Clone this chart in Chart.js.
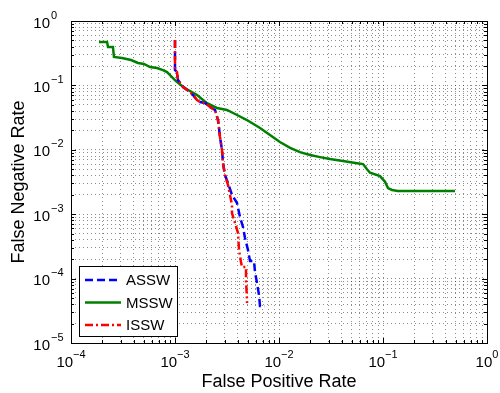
<!DOCTYPE html>
<html>
<head>
<meta charset="utf-8">
<script src="https://cdn.jsdelivr.net/npm/chart.js@4.4.1/dist/chart.umd.min.js"></script>
<style>
  html, body { margin: 0; padding: 0; background: #fff; }
</style>
</head>
<body>
<canvas id="chart" width="500" height="393"></canvas>
<script>
// axis decades (tick labels are 10^exp)
const xTickExps = [-4, -3, -2, -1, 0];
const yTickExps = [-5, -4, -3, -2, -1, 0];
const xTitle = 'False Positive Rate';
const yTitle = 'False Negative Rate';
const seriesNames = ['ASSW', 'MSSW', 'ISSW'];

// ASSW
const asswFpr = [1.0e-3, 1.0e-3, 1.045e-3, 1.069e-3, 1.194e-3, 1.394e-3, 1.49e-3, 1.627e-3, 1.739e-3, 1.943e-3,
  2.17e-3, 2.424e-3, 2.591e-3, 2.649e-3, 2.708e-3, 2.83e-3, 2.893e-3, 3.025e-3, 3.232e-3, 3.532e-3,
  3.947e-3, 4.217e-3, 4.506e-3, 4.711e-3, 5.033e-3, 5.262e-3, 5.749e-3, 5.878e-3, 6.144e-3, 6.422e-3,
  6.567e-3, 7.335e-3];
const asswFnr = [0.507, 0.173, 0.161, 0.121, 0.0944, 0.079, 0.071, 0.0593, 0.0552, 0.0533,
  0.0462, 0.0415, 0.029, 0.0218, 0.0158, 0.00993, 0.00624, 0.00406, 0.00305, 0.00199,
  0.00149, 0.000905, 0.000633, 0.000427, 0.000278, 0.000188, 0.000188, 0.000127, 8.54e-5, 5.56e-5,
  3.75e-5, 3.75e-5];

// MSSW
const msswFpr = [1.86e-4, 2.22e-4, 2.27e-4, 2.53e-4, 2.59e-4, 3.09e-4, 3.78e-4, 4.41e-4, 5.03e-4, 5.75e-4,
  6.71e-4, 7.67e-4, 8.38e-4, 9.36e-4, 1.02e-3, 1.17e-3, 1.33e-3, 1.63e-3, 2.03e-3, 2.53e-3,
  3.16e-3, 3.95e-3, 4.92e-3, 6.57e-3, 8.19e-3, 1.02e-2, 1.28e-2, 1.59e-2, 1.99e-2, 2.48e-2,
  3.09e-2, 4.12e-2, 5.62e-2, 6.43e-2, 7.02e-2, 7.5e-2, 9.36e-2, 0.1045, 0.1117, 0.122,
  0.139, 0.492];
const msswFnr = [0.472, 0.472, 0.395, 0.395, 0.276, 0.266, 0.248, 0.223, 0.215, 0.193,
  0.186, 0.173, 0.161, 0.135, 0.117, 0.098, 0.085, 0.071, 0.053, 0.0446,
  0.0415, 0.0347, 0.029, 0.0218, 0.017, 0.0132, 0.0107, 0.0092, 0.0083, 0.0077,
  0.0072, 0.0067, 0.0062, 0.0060, 0.0050, 0.0044, 0.0039, 0.0032, 0.00255, 0.00238,
  0.00229, 0.00229];

// ISSW
const isswFpr = [1.0e-3, 1.0e-3, 1.045e-3, 1.069e-3, 1.194e-3, 1.394e-3, 1.49e-3, 1.627e-3, 1.739e-3, 1.943e-3,
  2.17e-3, 2.424e-3, 2.591e-3, 2.649e-3, 2.708e-3, 2.83e-3, 2.893e-3, 3.025e-3, 3.232e-3, 3.378e-3,
  3.532e-3, 3.532e-3, 3.775e-3, 4.035e-3, 4.125e-3, 4.311e-3, 4.408e-3, 4.817e-3, 4.817e-3, 4.924e-3,
  4.924e-3];
const isswFnr = [0.507, 0.173, 0.161, 0.121, 0.0944, 0.079, 0.071, 0.0593, 0.0552, 0.0533,
  0.0462, 0.0415, 0.029, 0.0218, 0.0158, 0.00993, 0.00624, 0.00406, 0.00284, 0.00199,
  0.00139, 0.00104, 0.00073, 0.00051, 0.000278, 0.000181, 0.000151, 0.000151, 9.51e-5, 4.65e-5,
  4.18e-5];

const FONT = '"Liberation Sans", Arial, Helvetica, sans-serif';

function toPoints(xs, ys) {
  return xs.map((x, i) => ({ x: x, y: ys[i] }));
}

// all 1..9 x 10^e ticks inside a decade range
function decadeTicks(exps) {
  const out = [];
  for (let i = 0; i < exps.length; i++) {
    const e = exps[i];
    const last = i === exps.length - 1;
    for (let m = 1; m <= (last ? 1 : 9); m++) out.push({ value: m * Math.pow(10, e) });
  }
  return out;
}

function supText(exp) {
  return exp < 0 ? '\u2212' + (-exp) : String(exp);
}

// frame, inward ticks, 10^n labels, titles, legend
const matlabAxes = {
  id: 'matlabAxes',
  afterDraw(chart) {
    const ctx = chart.ctx;
    const area = chart.chartArea;
    const xs = chart.scales.x;
    const ys = chart.scales.y;

    ctx.save();
    ctx.strokeStyle = '#000';
    ctx.lineWidth = 1;
    ctx.setLineDash([]);

    // inward ticks on all four sides
    ctx.beginPath();
    xs.ticks.forEach(t => {
      const px = Math.round(xs.getPixelForValue(t.value)) + 0.5;
      const major = Math.abs(Math.log10(t.value) - Math.round(Math.log10(t.value))) < 1e-9;
      const len = major ? 5 : 3;
      ctx.moveTo(px, area.bottom); ctx.lineTo(px, area.bottom - len);
      ctx.moveTo(px, area.top); ctx.lineTo(px, area.top + len);
    });
    ys.ticks.forEach(t => {
      const py = Math.round(ys.getPixelForValue(t.value)) + 0.5;
      const major = Math.abs(Math.log10(t.value) - Math.round(Math.log10(t.value))) < 1e-9;
      const len = major ? 5 : 3;
      ctx.moveTo(area.left, py); ctx.lineTo(area.left + len, py);
      ctx.moveTo(area.right, py); ctx.lineTo(area.right - len, py);
    });
    ctx.stroke();

    // box
    ctx.strokeRect(Math.round(area.left) + 0.5, Math.round(area.top) + 0.5,
      Math.round(area.right - area.left), Math.round(area.bottom - area.top));

    // tick labels
    ctx.fillStyle = '#000';
    ctx.textBaseline = 'alphabetic';
    ctx.textAlign = 'left';
    xTickExps.forEach(e => {
      const px = xs.getPixelForValue(Math.pow(10, e));
      ctx.font = '15px ' + FONT;
      const bw = ctx.measureText('10').width;
      ctx.font = '11px ' + FONT;
      const sw = ctx.measureText(supText(e)).width;
      const x0 = px - (bw + sw) / 2;
      ctx.font = '15px ' + FONT;
      ctx.fillText('10', x0, area.bottom + 24);
      ctx.font = '11px ' + FONT;
      ctx.fillText(supText(e), x0 + bw, area.bottom + 15);
    });
    yTickExps.forEach(e => {
      const py = ys.getPixelForValue(Math.pow(10, e));
      ctx.font = '15px ' + FONT;
      const bw = ctx.measureText('10').width;
      ctx.fillText('10', area.left - 21 - bw, py + 6.5);
      ctx.font = '11px ' + FONT;
      ctx.fillText(supText(e), area.left - 20, py - 2.5);
    });

    // axis titles
    ctx.font = '18px ' + FONT;
    ctx.textAlign = 'center';
    ctx.fillText(xTitle, (area.left + area.right) / 2, 387);
    ctx.save();
    ctx.translate(24, (area.top + area.bottom) / 2);
    ctx.rotate(-Math.PI / 2);
    ctx.fillText(yTitle, 0, 0);
    ctx.restore();

    // legend (lower left, inside axes)
    const lx = 79.5, ly = 266.5, lw = 98, lh = 70;
    ctx.fillStyle = '#fff';
    ctx.fillRect(lx, ly, lw, lh);
    ctx.strokeStyle = '#000';
    ctx.lineWidth = 1;
    ctx.strokeRect(lx, ly, lw, lh);
    ctx.font = '15px ' + FONT;
    ctx.textAlign = 'left';
    ctx.textBaseline = 'middle';
    chart.data.datasets.forEach((ds, i) => {
      const ry = 280 + i * 22.5;
      ctx.strokeStyle = ds.borderColor;
      ctx.lineWidth = ds.borderWidth;
      ctx.setLineDash(ds.borderDash || []);
      ctx.beginPath();
      ctx.moveTo(85, ry);
      ctx.lineTo(121, ry);
      ctx.stroke();
      ctx.setLineDash([]);
      ctx.fillStyle = '#000';
      ctx.fillText(ds.label, 126, ry + 1);
    });
    ctx.restore();
  }
};

const lineDefaults = { pointRadius: 0, pointHoverRadius: 0, tension: 0, borderWidth: 2.5, fill: false };

new Chart(document.getElementById('chart'), {
  type: 'line',
  data: {
    datasets: [
      Object.assign({ label: seriesNames[0], data: toPoints(asswFpr, asswFnr), borderColor: '#0000ff',
        borderDash: [8, 4], order: 1 }, lineDefaults),
      Object.assign({ label: seriesNames[1], data: toPoints(msswFpr, msswFnr), borderColor: '#008000',
        order: 2 }, lineDefaults),
      Object.assign({ label: seriesNames[2], data: toPoints(isswFpr, isswFnr), borderColor: '#ff0000',
        borderDash: [8, 3, 2, 3], order: 0 }, lineDefaults)
    ]
  },
  options: {
    responsive: false,
    animation: false,
    devicePixelRatio: 1,
    layout: { padding: { top: 21, right: 13, left: 0, bottom: 0 } },
    plugins: { legend: { display: false }, tooltip: { enabled: false } },
    scales: {
      x: {
        type: 'logarithmic',
        min: 1e-4,
        max: 1,
        afterBuildTicks: scale => { scale.ticks = decadeTicks(xTickExps); },
        afterFit: scale => { scale.height = 50; },
        ticks: { display: false },
        grid: { color: 'rgba(0,0,0,0.45)', lineWidth: 1, drawTicks: false },
        border: { display: false, dash: [1, 3] }
      },
      y: {
        type: 'logarithmic',
        min: 1e-5,
        max: 1,
        afterBuildTicks: scale => { scale.ticks = decadeTicks(yTickExps); },
        afterFit: scale => { scale.width = 71; },
        ticks: { display: false },
        grid: { color: 'rgba(0,0,0,0.45)', lineWidth: 1, drawTicks: false },
        border: { display: false, dash: [1, 3] }
      }
    }
  },
  plugins: [matlabAxes]
});
</script>
</body>
</html>
